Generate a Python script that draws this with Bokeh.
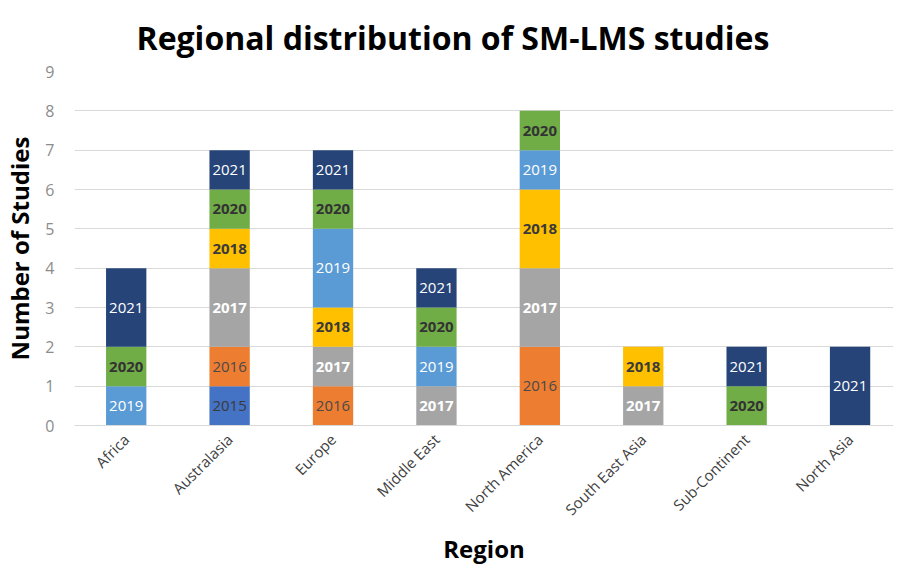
from bokeh.plotting import figure
from bokeh.models import ColumnDataSource, Range1d, FixedTicker, Title
from bokeh.core.properties import value
from bokeh.embed import file_html
from bokeh.resources import INLINE

regions = ["Africa", "Australasia", "Europe", "Middle East", "North America",
           "South East Asia", "Sub-Continent", "North Asia"]
years = ["2015", "2016", "2017", "2018", "2019", "2020", "2021"]
y2015 = [0, 1, 0, 0, 0, 0, 0, 0]
y2016 = [0, 1, 1, 0, 2, 0, 0, 0]
y2017 = [0, 2, 1, 1, 2, 1, 0, 0]
y2018 = [0, 1, 1, 0, 2, 1, 0, 0]
y2019 = [1, 0, 2, 1, 1, 0, 0, 0]
y2020 = [1, 1, 1, 1, 1, 0, 1, 0]
y2021 = [2, 1, 1, 1, 0, 0, 1, 2]
y_ticks = [0, 1, 2, 3, 4, 5, 6, 7, 8, 9]

colors = ["#4472C4", "#ED7D31", "#A5A5A5", "#FFC000", "#5B9BD5", "#70AD47", "#264478"]
label_colors = ["#3a3a3a", "#4a4a4a", "#ffffff", "#3a3a3a", "#ffffff", "#333333", "#ffffff"]
label_weights = ["normal", "normal", "bold", "bold", "normal", "bold", "normal"]

series = [y2015, y2016, y2017, y2018, y2019, y2020, y2021]
x = list(range(len(regions)))
data = {"x": x}
for yr, s in zip(years, series):
    data[yr] = s
src = ColumnDataSource(data)

p = figure(width=893, height=564, output_backend="svg", toolbar_location=None,
           x_range=Range1d(-0.5, 7.42), y_range=Range1d(0, 9),
           min_border_left=10, min_border_right=0, min_border_top=0, min_border_bottom=0)
p.outline_line_color = None
p.background_fill_color = "white"

p.vbar_stack(years, x="x", width=0.39, color=colors, source=src, line_color=None)

# segment labels
lx, ly, lt, lc, lw = [], [], [], [], []
bottoms = [0] * len(regions)
for k, s in enumerate(series):
    for i, v in enumerate(s):
        if v > 0:
            lx.append(i)
            ly.append(bottoms[i] + v / 2)
            lt.append(years[k])
            lc.append(label_colors[k])
            lw.append(label_weights[k])
        bottoms[i] += v
lsrc = ColumnDataSource(dict(x=lx, y=ly, t=lt, c=lc, w=lw))
p.text(x="x", y="y", text="t", source=lsrc, text_color="c", text_font_style="w",
       text_align="center", text_baseline="middle", text_font_size="15px",
       text_font=value("Open Sans"))

# axes
p.xgrid.grid_line_color = None
p.ygrid.grid_line_color = "#d9d9d9"
p.ygrid.ticker = FixedTicker(ticks=y_ticks)
p.yaxis.ticker = FixedTicker(ticks=y_ticks)
p.xaxis.ticker = FixedTicker(ticks=x)
p.xaxis.major_label_overrides = {i: r for i, r in enumerate(regions)}
p.xaxis.major_label_orientation = 0.785
for ax in (p.xaxis, p.yaxis):
    ax.axis_line_color = None
    ax.major_tick_line_color = None
    ax.minor_tick_line_color = None
p.xaxis.axis_line_color = "#d9d9d9"
p.yaxis.major_label_text_color = "#8c8c8c"
p.yaxis.major_label_text_font_size = "16px"
p.yaxis.major_label_text_font = "Open Sans"
p.yaxis.major_label_standoff = 14
p.xaxis.major_label_text_color = "#404040"
p.xaxis.major_label_text_font_size = "15px"
p.xaxis.major_label_text_font = "Open Sans"
p.xaxis.major_label_standoff = 5

p.yaxis.axis_label = "Number of Studies"
p.yaxis.axis_label_text_font = "Open Sans"
p.yaxis.axis_label_text_font_style = "bold"
p.yaxis.axis_label_text_font_size = "24px"
p.yaxis.axis_label_text_color = "black"
p.yaxis.axis_label_standoff = 6

p.add_layout(Title(text="Region", align="center", offset=8,
                   text_font="Open Sans", text_font_size="24px", text_font_style="bold",
                   text_color="black", standoff=0), "below")

p.title = Title(text="Regional distribution of SM-LMS studies", align="left", offset=62,
                text_font="Open Sans", text_font_size="32px", text_font_style="bold",
                text_color="black", standoff=26)

open("out.html", "w").write(file_html(p, INLINE))
